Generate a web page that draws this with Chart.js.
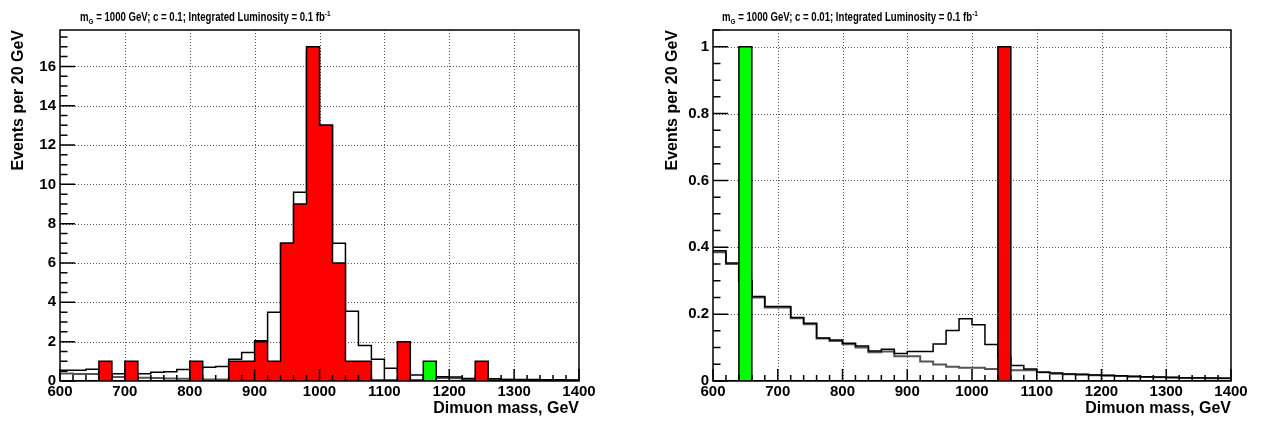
<!DOCTYPE html>
<html>
<head>
<meta charset="utf-8">
<title>Dimuon mass spectra</title>
<script src="https://cdn.jsdelivr.net/npm/chart.js@4.4.1/dist/chart.umd.min.js"></script>
<style>
    html, body { margin: 0; padding: 0; background: #fff; }
    body { width: 1264px; height: 423px; position: relative; overflow: hidden; font-family: 'Liberation Sans', Arial, sans-serif; }
    .pad { position: absolute; top: 0; width: 632px; height: 423px; }
    .pad canvas { display: block; }
    .pad__title {
        position: absolute; top: 11px; color: #000;
        font-size: 12px; font-weight: bold; line-height: 12px; white-space: nowrap;
        transform: scaleX(0.8); transform-origin: 0 0;
    }
    .pad__title sub, .pad__title sup { font-size: 8px; line-height: 0; }
    .pad__title sub { vertical-align: -3px; }
    .pad__title sup { vertical-align: 5px; }
</style>
</head>
<body>
<div class="pad" style="left:0">
    <canvas id="chart-c01" width="632" height="423"></canvas>
    <div class="pad__title" style="left:80px">m<sub>G</sub> = 1000 GeV; c = 0.1; Integrated Luminosity = 0.1 fb<sup>-1</sup></div>
</div>
<div class="pad" style="left:632px">
    <canvas id="chart-c001" width="632" height="423"></canvas>
    <div class="pad__title" style="left:90px">m<sub>G</sub> = 1000 GeV; c = 0.01; Integrated Luminosity = 0.1 fb<sup>-1</sup></div>
</div>
<script>
'use strict';

/* ── Bin edges (20 GeV bins, 600-1400 GeV) ── */
const binEdges = [600, 620, 640, 660, 680, 700, 720, 740, 760, 780,
    800, 820, 840, 860, 880, 900, 920, 940, 960, 980,
    1000, 1020, 1040, 1060, 1080, 1100, 1120, 1140, 1160, 1180,
    1200, 1220, 1240, 1260, 1280, 1300, 1320, 1340, 1360, 1380, 1400];

const xTicks = [600, 700, 800, 900, 1000, 1100, 1200, 1300, 1400];
const yTicksC01 = [0, 2, 4, 6, 8, 10, 12, 14, 16];
const yTicksC001 = [0, 0.2, 0.4, 0.6, 0.8, 1];

/* ── c = 0.1 ── */
const c01SigBkg = [0.55, 0.55, 0.6, 0.4, 0.37, 0.4, 0.37, 0.44, 0.47, 0.58,
    0.65, 0.7, 0.74, 1.1, 1.45, 2.05, 3.5, 7.0, 9.6, 16.8,
    13.0, 7.0, 3.55, 1.8, 1.1, 0.65, 0.45, 0.3, 0.25, 0.22,
    0.2, 0.13, 0.12, 0.12, 0.08, 0.07, 0.07, 0.06, 0.06, 0.05];
const c01Bkg = [0.38, 0.35, 0.35, 0.3, 0.2, 0.18, 0.16, 0.15, 0.13, 0.12,
    0.1, 0.08, 0.08, 0.07, 0.07, 0.06, 0.06, 0.06, 0.05, 0.05,
    0.05, 0.05, 0.05, 0.05, 0.05, 0.05, 0.05, 0.05, 0.15, 0.15,
    0.14, 0.1, 0.08, 0.08, 0.06, 0.05, 0.05, 0.05, 0.04, 0.04];
const c01Events = [0, 0, 0, 1, 0, 1, 0, 0, 0, 0,
    1, 0, 0, 1, 1, 2, 1, 7, 9, 17,
    13, 6, 1, 1, 0, 0, 2, 0, 0, 0,
    0, 0, 1, 0, 0, 0, 0, 0, 0, 0];
const c01Green = [0, 0, 0, 0, 0, 0, 0, 0, 0, 0,
    0, 0, 0, 0, 0, 0, 0, 0, 0, 0,
    0, 0, 0, 0, 0, 0, 0, 0, 1, 0,
    0, 0, 0, 0, 0, 0, 0, 0, 0, 0];

/* ── c = 0.01 ── */
const c001SigBkg = [0.39, 0.353, 0.3, 0.253, 0.223, 0.223, 0.19, 0.173, 0.129, 0.123,
    0.113, 0.105, 0.09, 0.095, 0.082, 0.088, 0.088, 0.111, 0.151, 0.186,
    0.168, 0.109, 0.07, 0.046, 0.036, 0.026, 0.024, 0.021, 0.02, 0.018,
    0.017, 0.016, 0.014, 0.013, 0.012, 0.011, 0.01, 0.01, 0.009, 0.008];
const c001Bkg = [0.385, 0.35, 0.3, 0.25, 0.22, 0.22, 0.188, 0.17, 0.127, 0.12,
    0.11, 0.1, 0.086, 0.088, 0.074, 0.074, 0.058, 0.049, 0.043, 0.04,
    0.04, 0.036, 0.034, 0.032, 0.032, 0.026, 0.022, 0.02, 0.019, 0.017,
    0.016, 0.015, 0.013, 0.012, 0.011, 0.01, 0.009, 0.009, 0.008, 0.008];
const c001Events = [0, 0, 0, 0, 0, 0, 0, 0, 0, 0,
    0, 0, 0, 0, 0, 0, 0, 0, 0, 0,
    0, 0, 1, 0, 0, 0, 0, 0, 0, 0,
    0, 0, 0, 0, 0, 0, 0, 0, 0, 0];
const c001Green = [0, 0, 1, 0, 0, 0, 0, 0, 0, 0,
    0, 0, 0, 0, 0, 0, 0, 0, 0, 0,
    0, 0, 0, 0, 0, 0, 0, 0, 0, 0,
    0, 0, 0, 0, 0, 0, 0, 0, 0, 0];

const COLORS = {
    black: '#000000',
    grey: '#555555',
    red: '#ff0000',
    green: '#00ff00',
    grid: '#555555',
};

Chart.defaults.font.family = "'Liberation Sans', Arial, sans-serif";
Chart.defaults.color = COLORS.black;

/* ── Helper: histogram -> stepped points on bin edges ── */
function toSteps(values) {
    return binEdges.map((x, i) => ({ x, y: values[Math.min(i, values.length - 1)] }));
}

function outline(values, color, width, order) {
    return {
        data: toSteps(values), stepped: true, fill: false,
        borderColor: color, borderWidth: width, pointRadius: 0, order,
    };
}

function filled(values, color) {
    return {
        data: toSteps(values), stepped: true, fill: 'origin',
        backgroundColor: color, borderColor: COLORS.black, borderWidth: 1.5, pointRadius: 0, order: 0,
    };
}

/* ── ROOT-like frame: dotted grid, inward ticks, box ── */
const rootFrame = {
    id: 'rootFrame',
    beforeDatasetsDraw(chart, args, opts) {
        const { ctx, chartArea: { left, right, top, bottom }, scales: { x, y } } = chart;
        ctx.save();
        ctx.strokeStyle = COLORS.grid;
        ctx.lineWidth = 1;
        ctx.setLineDash([1, 2]);
        ctx.beginPath();
        xTicks.slice(1, -1).forEach(v => {
            const px = Math.round(x.getPixelForValue(v)) + 0.5;
            ctx.moveTo(px, top); ctx.lineTo(px, bottom);
        });
        opts.yTicks.slice(1).forEach(v => {
            const py = Math.round(y.getPixelForValue(v)) + 0.5;
            ctx.moveTo(left, py); ctx.lineTo(right, py);
        });
        ctx.stroke();
        ctx.restore();
    },
    afterDatasetsDraw(chart, args, opts) {
        const { ctx, chartArea: { left, right, top, bottom }, scales: { x, y } } = chart;
        ctx.save();
        ctx.strokeStyle = COLORS.black;
        ctx.lineWidth = 1.5;
        ctx.beginPath();
        // x ticks: one per bin edge, longer at the labelled ones
        binEdges.forEach(v => {
            const px = x.getPixelForValue(v);
            const len = xTicks.includes(v) ? 12 : 6;
            ctx.moveTo(px, bottom); ctx.lineTo(px, bottom - len);
        });
        // y ticks: major at labels, minor between
        const n = Math.floor((y.max - y.min) / opts.yMinor + 1e-6);
        for (let i = 0; i <= n; i++) {
            const v = i * opts.yMinor;
            const major = opts.yTicks.some(t => Math.abs(t - v) < 1e-6);
            const py = y.getPixelForValue(v);
            ctx.moveTo(left, py); ctx.lineTo(left + (major ? 15 : 7.5), py);
        }
        ctx.stroke();
        ctx.strokeRect(left, top, right - left, bottom - top);
        ctx.restore();
    },
};

function makeChart(id, cfg) {
    return new Chart(document.getElementById(id), {
        type: 'line',
        data: {
            datasets: [
                filled(cfg.events, COLORS.red),
                filled(cfg.green, COLORS.green),
                outline(cfg.sigBkg, COLORS.black, 1.5, 1),
                outline(cfg.bkg, COLORS.grey, 2, 2),
            ],
        },
        options: {
            responsive: false,
            animation: false,
            events: [],
            layout: { padding: { top: 30, right: cfg.padRight, bottom: 0, left: 0 } },
            plugins: {
                legend: { display: false },
                tooltip: { enabled: false },
                rootFrame: { yTicks: cfg.yTicks, yMinor: cfg.yMinor },
            },
            scales: {
                x: {
                    type: 'linear', min: 600, max: 1400,
                    afterFit(s) { s.height = 42; },
                    afterBuildTicks(s) { s.ticks = xTicks.map(v => ({ value: v })); },
                    grid: { display: false, drawTicks: false },
                    border: { display: false },
                    ticks: {
                        autoSkip: false, maxRotation: 0, padding: 2,
                        font: { size: 15, weight: 'bold' },
                        callback: v => String(v),
                    },
                    title: {
                        display: true, text: 'Dimuon mass, GeV', align: 'end',
                        font: { size: 16, weight: 'bold' }, padding: { top: 0, bottom: 5 },
                    },
                },
                y: {
                    type: 'linear', min: 0, max: cfg.yMax,
                    afterFit(s) { s.width = cfg.yWidth; },
                    afterBuildTicks(s) { s.ticks = cfg.yTicks.map(v => ({ value: v })); },
                    grid: { display: false, drawTicks: false },
                    border: { display: false },
                    ticks: {
                        padding: 4,
                        font: { size: 15, weight: 'bold' },
                        callback: v => String(Math.round(v * 100) / 100),
                    },
                    title: {
                        display: true, text: 'Events per 20 GeV', align: 'end',
                        font: { size: 16, weight: 'bold' }, padding: { top: cfg.titlePad, bottom: 0 },
                    },
                },
            },
        },
        plugins: [rootFrame],
    });
}

makeChart('chart-c01', {
    events: c01Events, green: c01Green, sigBkg: c01SigBkg, bkg: c01Bkg,
    yMax: 17.85, yTicks: yTicksC01, yMinor: 0.5,
    yWidth: 60, padRight: 53, titlePad: 9,
});

makeChart('chart-c001', {
    events: c001Events, green: c001Green, sigBkg: c001SigBkg, bkg: c001Bkg,
    yMax: 1.05, yTicks: yTicksC001, yMinor: 0.05,
    yWidth: 81, padRight: 33, titlePad: 31,
});
</script>
</body>
</html>
